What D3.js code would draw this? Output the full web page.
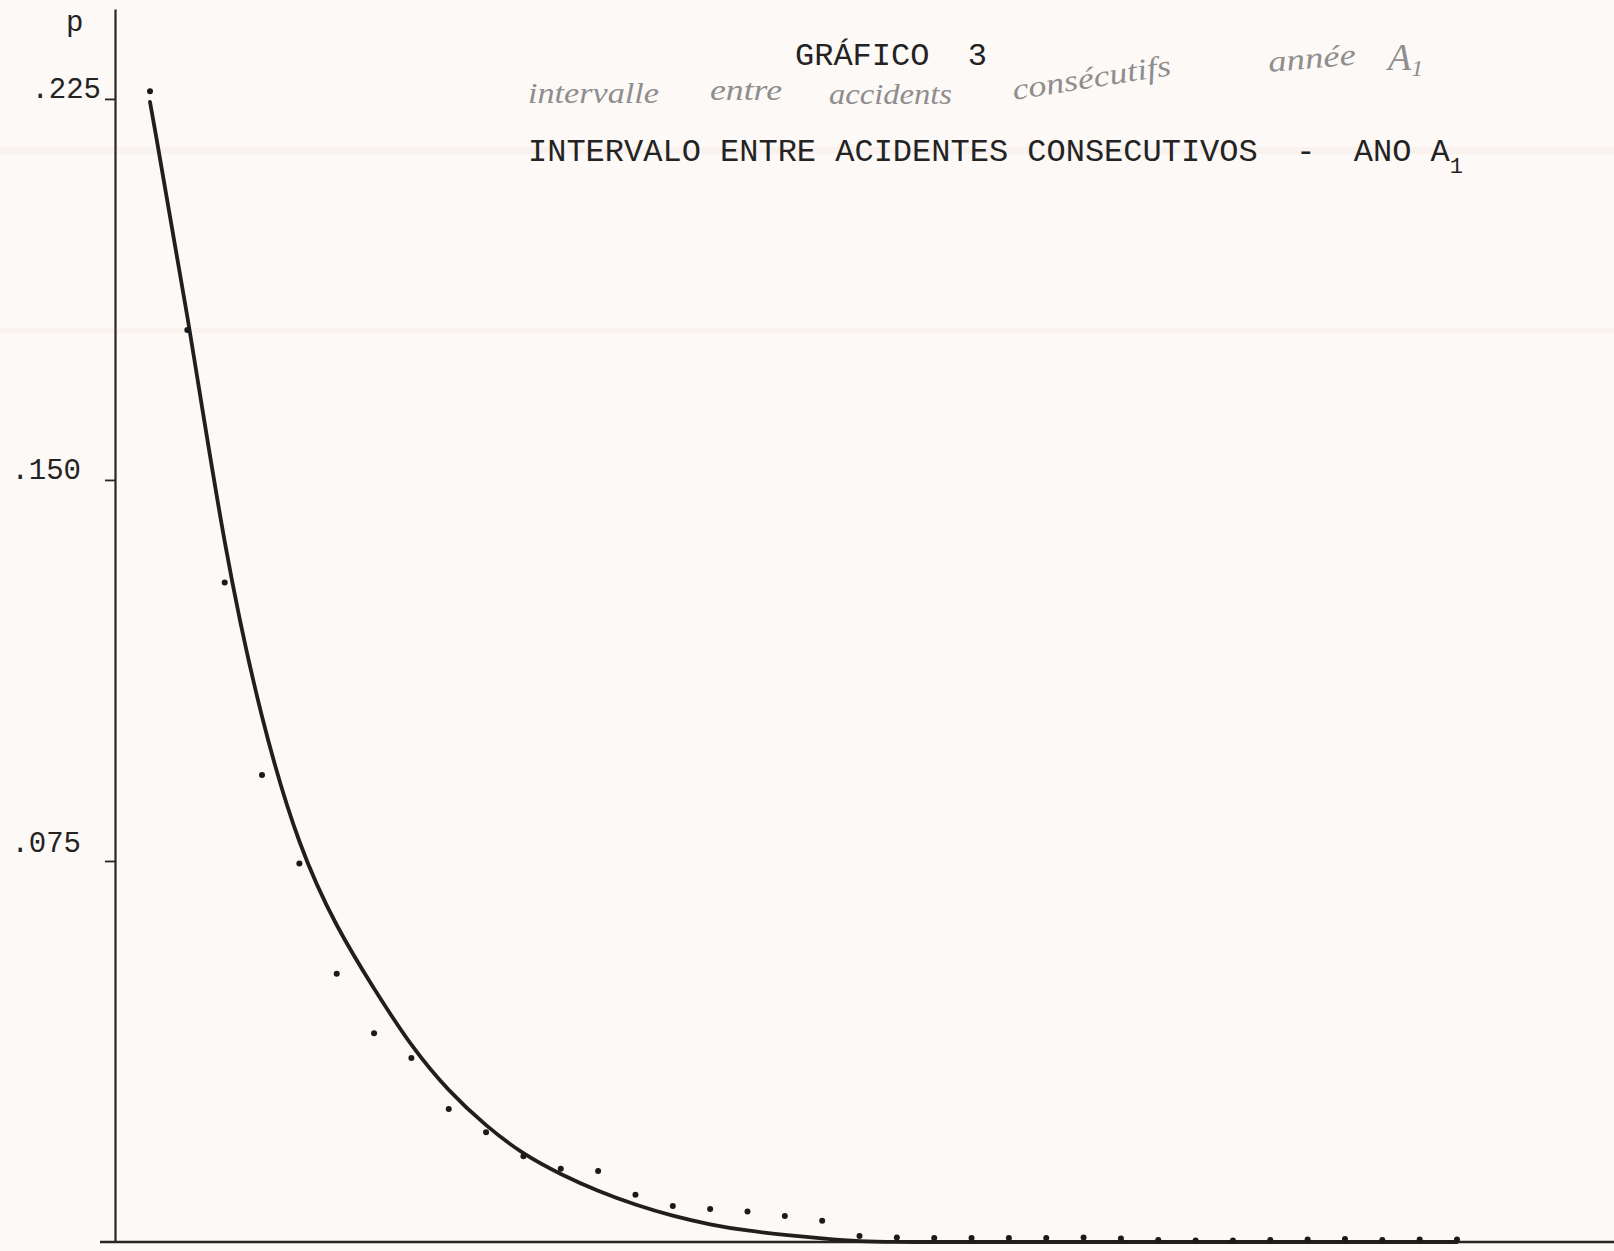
<!DOCTYPE html>
<html>
<head>
<meta charset="utf-8">
<title>Gráfico 3</title>
<script src="https://cdn.jsdelivr.net/npm/d3@7"></script>
<style>
	html, body { margin: 0; padding: 0; background: #fdf9f7; }
	svg { display: block; }
	.typed { font-family: "Liberation Mono", "DejaVu Sans Mono", monospace; fill: #232323; white-space: pre; }
	.hand { font-family: "Liberation Serif", serif; font-style: italic; fill: #8e8e8e; }
</style>
</head>
<body>
<div id="chart"></div>
<script>
// intervals between consecutive accidents (x positions, no labels on the original)
const intervals = [1, 2, 3, 4, 5, 6, 7, 8, 9, 10, 11, 12, 13, 14, 15, 16, 17, 18,
	19, 20, 21, 22, 23, 24, 25, 26, 27, 28, 29, 30, 31, 32, 33, 34, 35, 36];
// observed frequencies (dots)
const observed = [0.2265, 0.1795, 0.1298, 0.0919, 0.0745, 0.0528, 0.0411, 0.0362, 0.0262,
	0.0216, 0.0169, 0.0144, 0.0140, 0.0093, 0.0071, 0.0065, 0.0060, 0.0051, 0.0042,
	0.0012, 0.0009, 0.0008, 0.0008, 0.0008, 0.0008, 0.0009, 0.0007, 0.0004, 0.0003,
	0.0003, 0.0004, 0.0005, 0.0006, 0.0004, 0.0005, 0.0005];
// fitted curve, read at the same intervals
const fitted = [0.2244, 0.1832, 0.1356, 0.1019, 0.0774, 0.0618, 0.0498, 0.0384, 0.0296,
	0.0228, 0.0172, 0.0133, 0.0100, 0.0073, 0.0051, 0.0034, 0.0022, 0.0014, 0.0007,
	0.0001, 0, 0, 0, 0, 0, 0, 0, 0, 0, 0, 0, 0, 0, 0, 0, 0];
const yTicks = [0.075, 0.150, 0.225];
const yTickLabels = ['.075', '.150', '.225'];
const chartNumber = 'GRÁFICO  3';
const chartTitle = 'INTERVALO ENTRE ACIDENTES CONSECUTIVOS  -  ANO A';
const chartTitleSub = '1';
const yLabel = 'p';

var width = 1614, height = 1251;
var axisX = 115, axisY = 1242;

var svg = d3.select('#chart')
	.append('svg')
		.attr('width', width)
		.attr('height', height);

svg.append('rect')
	.attr('width', width)
	.attr('height', height)
	.attr('fill', '#fdf9f7');

// faint scanner bands
svg.append('rect').attr('x', 0).attr('y', 147).attr('width', width).attr('height', 7)
	.attr('fill', '#f8ece8').attr('opacity', 0.6);
svg.append('rect').attr('x', 0).attr('y', 328).attr('width', width).attr('height', 5)
	.attr('fill', '#f8ede9').attr('opacity', 0.6);

var x = d3.scaleLinear()
	.domain([1, 36])
	.range([150, 1457]);

var y = d3.scaleLinear()
	.domain([0, 0.2427])
	.range([axisY, 9]);

// y axis
var yAxis = svg.append('g')
	.attr('transform', 'translate(' + axisX + ',0)')
	.call(d3.axisLeft(y)
		.tickValues(yTicks)
		.tickFormat((d, i) => yTickLabels[i])
		.tickSize(10)
		.tickSizeOuter(0)
		.tickPadding(24));

yAxis.select('.domain')
	.attr('stroke', '#262626')
	.attr('stroke-width', 2.2);
yAxis.selectAll('.tick line')
	.attr('stroke', '#262626')
	.attr('stroke-width', 1.8);
yAxis.selectAll('.tick text')
	.attr('class', 'typed')
	.attr('dy', '-1')
	.style('font-size', '29px')
	.style('fill', '#232323');
// typed labels sit a little off the tick marks
yAxis.selectAll('.tick text')
	.filter(d => d === 0.225)
	.attr('x', -14);
yAxis.selectAll('.tick text')
	.filter(d => d === 0.075)
	.attr('dy', '-9');

// x axis (no ticks on the original)
svg.append('line')
	.attr('x1', axisX - 15)
	.attr('x2', width)
	.attr('y1', y(0))
	.attr('y2', y(0))
	.attr('stroke', '#262626')
	.attr('stroke-width', 2.6);

svg.append('text')
	.attr('class', 'typed')
	.attr('x', 66)
	.attr('y', 31)
	.attr('font-size', 29)
	.text(yLabel);

// fitted curve
var curveData = intervals.map((d, i) => ({ k: d, p: fitted[i] }));
svg.append('path')
	.datum(curveData)
	.attr('fill', 'none')
	.attr('stroke', '#1f1f1f')
	.attr('stroke-width', 3.8)
	.attr('stroke-linecap', 'round')
	.attr('d', d3.line()
		.x(d => x(d.k))
		.y(d => y(d.p))
		.curve(d3.curveBasis));

// observed points
var pointData = intervals.map((d, i) => ({ k: d, p: observed[i] }));
svg.selectAll('circle.obs')
	.data(pointData)
	.enter()
	.append('circle')
		.attr('class', 'obs')
		.attr('cx', d => x(d.k))
		.attr('cy', d => y(d.p))
		.attr('r', 3)
		.attr('fill', '#1a1a1a');

// typed titles
svg.append('text')
	.attr('class', 'typed')
	.attr('x', 795)
	.attr('y', 65)
	.attr('font-size', 32)
	.text(chartNumber);

var title = svg.append('text')
	.attr('class', 'typed')
	.attr('x', 528)
	.attr('y', 161)
	.attr('font-size', 32);
title.append('tspan').text(chartTitle);
title.append('tspan')
	.attr('dy', 12)
	.attr('font-size', 22)
	.text(chartTitleSub);

// handwritten french note
var hand = svg.append('g').attr('class', 'hand');
hand.append('text').attr('x', 528).attr('y', 103).attr('font-size', 30)
	.attr('textLength', 131).attr('lengthAdjust', 'spacingAndGlyphs').text('intervalle');
hand.append('text').attr('x', 710).attr('y', 100).attr('font-size', 30)
	.attr('textLength', 72).attr('lengthAdjust', 'spacingAndGlyphs').text('entre');
hand.append('text').attr('x', 829).attr('y', 104).attr('font-size', 30)
	.attr('textLength', 123).attr('lengthAdjust', 'spacingAndGlyphs').text('accidents');
hand.append('text').attr('x', 1014).attr('y', 100).attr('font-size', 30)
	.attr('transform', 'rotate(-9,1014,100)')
	.attr('textLength', 160).attr('lengthAdjust', 'spacingAndGlyphs').text('consécutifs');
hand.append('text').attr('x', 1269).attr('y', 72).attr('font-size', 30)
	.attr('transform', 'rotate(-5,1269,72)')
	.attr('textLength', 88).attr('lengthAdjust', 'spacingAndGlyphs').text('année');
var handA = hand.append('text').attr('x', 1388).attr('y', 70).attr('font-size', 38);
handA.append('tspan').text('A');
handA.append('tspan').attr('dy', 6).attr('font-size', 24).text('1');
</script>
</body>
</html>
